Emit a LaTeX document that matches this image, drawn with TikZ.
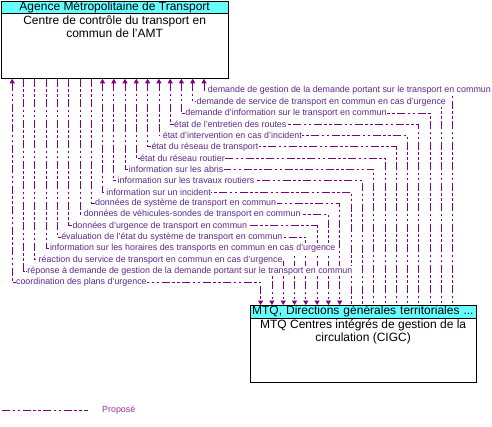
\documentclass[tikz,border=0pt]{standalone}
\usepackage{fontspec}
\setmainfont{Liberation Sans}
\usepackage{tikz}
\usetikzlibrary{positioning,arrows.meta}
\definecolor{flowpurple}{RGB}{128,0,128}
\definecolor{lblpurple}{RGB}{96,40,140}
\definecolor{legpurple}{RGB}{150,50,150}
\definecolor{headcyan}{RGB}{102,255,255}
\tikzset{
  sysbox/.style = {draw, line width=0.8pt, inner sep=0pt},
  syshead/.style = {draw, line width=0.8pt, fill=headcyan, inner sep=0pt, minimum height=12.5pt, font=\fontsize{12}{13}\selectfont},
  systext/.style = {align=center, inner sep=1pt, font=\fontsize{12}{13}\selectfont},
  flow/.style = {draw=flowpurple, line width=0.8pt, dash pattern=on 8pt off 2.5pt on 2.5pt off 2.5pt on 2.5pt off 2.5pt, >={Triangle[length=4.5pt,width=5pt]}},
  flowlbl/.style = {anchor=west, xshift=3pt, fill=white, inner xsep=0.5pt, inner ysep=1pt, text=lblpurple, font=\fontsize{8.9}{10}\selectfont}
}
\begin{document}
\begin{tikzpicture}[x=1pt, y=1pt]
  \useasboundingbox (0,0) rectangle (492,-427);

  % Agence Metropolitaine de Transport
  \node[sysbox, anchor=north west, minimum width=226.5pt, minimum height=77pt] (amt) at (1,-1) {};
  \node[syshead, anchor=north west, minimum width=226.5pt] (amthead) at (amt.north west) {Agence Métropolitaine de Transport};
  \node[systext, below=0pt of amthead] (amttext) {Centre de contrôle du transport en\\commun de l'AMT};

  % MTQ CIGC
  \node[sysbox, anchor=north west, minimum width=225.5pt, minimum height=77pt] (cigc) at (250,-305) {};
  \node[syshead, anchor=north west, minimum width=225.5pt, text width=222pt, inner xsep=1.5pt, align=left] (cigchead) at (cigc.north west) {MTQ, Directions générales territoriales ...};
  \node[systext, below=0pt of cigchead] (cigctext) {MTQ Centres intégrés de gestion de la\\circulation (CIGC)};

  % flows
  \draw[flow, <-] (amt.south -| 204.0,0) -- (204.0,-90.5) node[flowlbl] {demande de gestion de la demande portant sur le transport en commun} -| (cigc.north -| 452.7,0);
  \draw[flow, <-] (amt.south -| 192.7,0) -- (192.7,-101.8) node[flowlbl] {demande de service de transport en commun en cas d'urgence} -| (cigc.north -| 441.4,0);
  \draw[flow, <-] (amt.south -| 181.4,0) -- (181.4,-113.1) node[flowlbl] {demande d'information sur le transport en commun} -| (cigc.north -| 430.1,0);
  \draw[flow, <-] (amt.south -| 170.2,0) -- (170.2,-124.3) node[flowlbl] {état de l'entretien des routes} -| (cigc.north -| 418.8,0);
  \draw[flow, <-] (amt.south -| 158.9,0) -- (158.9,-135.6) node[flowlbl] {état d'intervention en cas d'incident} -| (cigc.north -| 407.5,0);
  \draw[flow, <-] (amt.south -| 147.6,0) -- (147.6,-146.9) node[flowlbl] {état du réseau de transport} -| (cigc.north -| 396.2,0);
  \draw[flow, <-] (amt.south -| 136.3,0) -- (136.3,-158.2) node[flowlbl] {état du réseau routier} -| (cigc.north -| 384.9,0);
  \draw[flow, <-] (amt.south -| 125.0,0) -- (125.0,-169.5) node[flowlbl] {information sur les abris} -| (cigc.north -| 373.6,0);
  \draw[flow, <-] (amt.south -| 113.8,0) -- (113.8,-180.7) node[flowlbl] {information sur les travaux routiers} -| (cigc.north -| 362.3,0);
  \draw[flow, <-] (amt.south -| 102.5,0) -- (102.5,-192.0) node[flowlbl] {information sur un incident} -| (cigc.north -| 351.0,0);
  \draw[flow, ->] (amt.south -| 91.2,0) -- (91.2,-203.3) node[flowlbl] {données de système de transport en commun} -| (cigc.north -| 339.7,0);
  \draw[flow, ->] (amt.south -| 79.9,0) -- (79.9,-214.6) node[flowlbl] {données de véhicules-sondes de transport en commun} -| (cigc.north -| 328.4,0);
  \draw[flow, ->] (amt.south -| 68.6,0) -- (68.6,-225.9) node[flowlbl] {données d'urgence de transport en commun} -| (cigc.north -| 317.1,0);
  \draw[flow, ->] (amt.south -| 57.4,0) -- (57.4,-237.1) node[flowlbl] {évaluation de l'état du système de transport en commun} -| (cigc.north -| 305.8,0);
  \draw[flow, ->] (amt.south -| 46.1,0) -- (46.1,-248.4) node[flowlbl] {information sur les horaires des transports en commun en cas d'urgence} -| (cigc.north -| 294.5,0);
  \draw[flow, ->] (amt.south -| 34.8,0) -- (34.8,-259.7) node[flowlbl] {réaction du service de transport en commun en cas d'urgence} -| (cigc.north -| 283.2,0);
  \draw[flow, ->] (amt.south -| 23.5,0) -- (23.5,-271.0) node[flowlbl] {réponse à demande de gestion de la demande portant sur le transport en commun} -| (cigc.north -| 271.9,0);
  \draw[flow, <->] (amt.south -| 12.2,0) -- (12.2,-282.3) node[flowlbl] {coordination des plans d'urgence} -| (cigc.north -| 260.6,0);

  % legend
  \coordinate (legstart) at (2,-410);
  \coordinate (legend) at (88,-410);
  \draw[flow] (legstart) -- (legend);
  \node[anchor=west, text=legpurple, font=\fontsize{8.9}{10}\selectfont, inner sep=0pt] (legtext) at (102,-410) {Proposé};
\end{tikzpicture}
\end{document}
